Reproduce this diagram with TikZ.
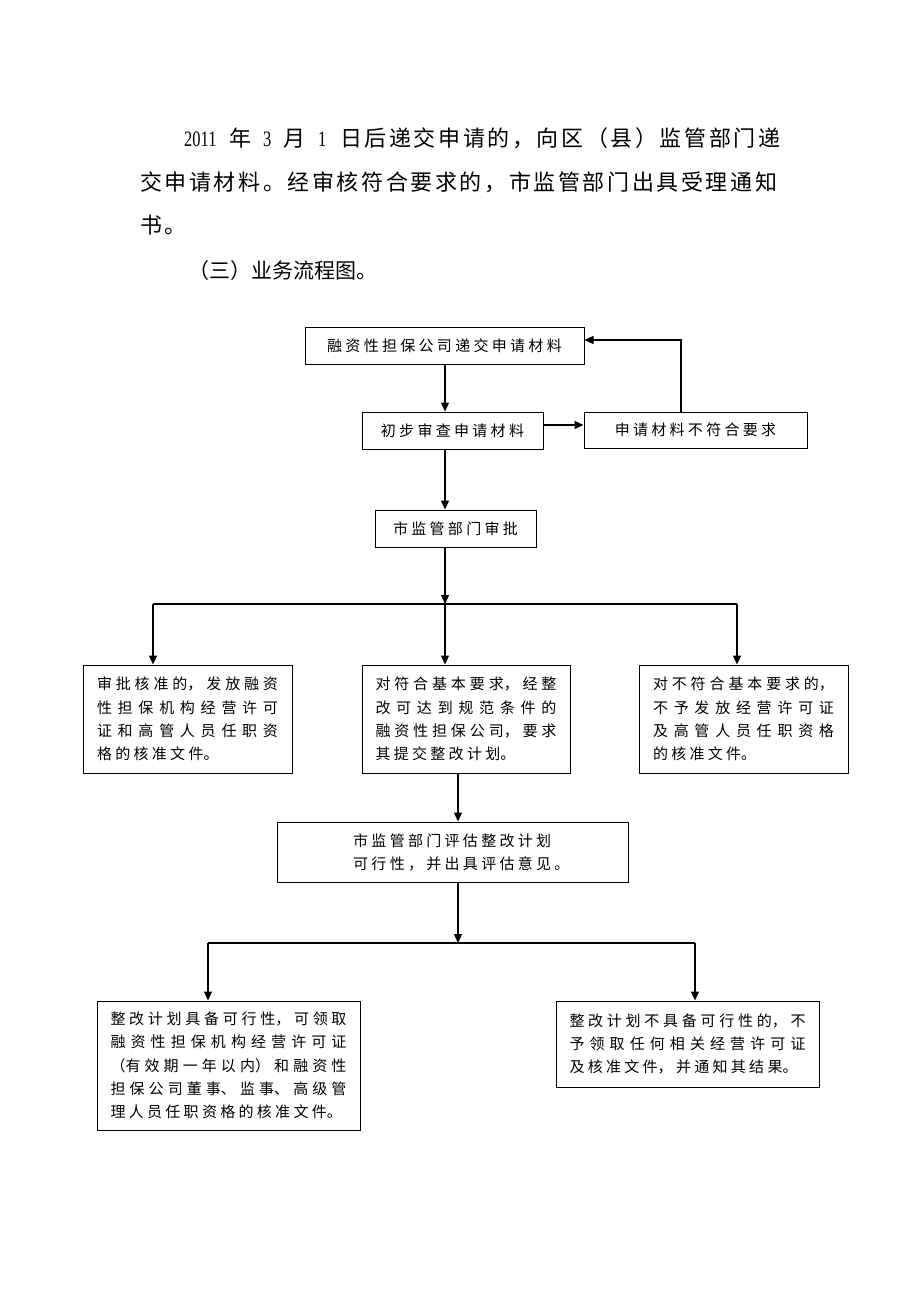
\documentclass[tikz,border=0pt]{standalone}
\usepackage{fontspec}
\usetikzlibrary{arrows.meta,shadows}
\newfontfamily\cjkbody[LetterSpace=11.8]{Noto Sans CJK SC}
\newfontfamily\cjkbox[LetterSpace=22]{Noto Sans CJK SC}
\newfontfamily\cjkplain{Noto Sans CJK SC}
\newfontfamily\cjkhead{Noto Sans CJK SC}
\newfontfamily\digitfont[FakeStretch=0.75]{Liberation Serif}
\XeTeXlinebreaklocale "zh"
\XeTeXlinebreakskip=0pt
\newcommand\myboxglue{\XeTeXlinebreakskip=3.3pt plus 4pt\relax}
\begin{document}
\begin{tikzpicture}[x=1pt,y=-1pt,
  txt/.style={inner sep=0pt, anchor=base west, font=\cjkbody\fontsize{22}{26}\selectfont},
  dig/.style={inner sep=0pt, anchor=base west, font=\digitfont\fontsize{22}{26}\selectfont},
  box/.style={draw, line width=1pt, fill=white, inner sep=0pt,
    font=\cjkbox\fontsize{15}{23.3}\selectfont,
    drop shadow={shadow xshift=1.4pt, shadow yshift=-1.4pt, fill=black!70, opacity=0.6}},
  pbox/.style={box, align=justify, inner ysep=0pt,
    font={\cjkplain\fontsize{15}{23.3}\selectfont\myboxglue}},
  conn/.style={line width=1.1pt},
  arr/.style={conn, -{Triangle[length=9pt,width=8pt]}}
]
\fill[white] (0,0) rectangle (920,1302);
\useasboundingbox (0,0) rectangle (920,1302);

% paragraph text
\node[dig] (p2011) at (184,146.4) {2011};
\node[txt] (pnian) at (229,146.4) {年};
\node[dig] (p3) at (263,146.4) {3};
\node[txt] (pyue) at (283,146.4) {月};
\node[dig] (p1) at (318,146.4) {1};
\node[txt] (pl1) at (340,146.4) {日后递交申请的，向区（县）监管部门递};
\node[txt] (pl2) at (140,190.4) {交申请材料。经审核符合要求的，市监管部门出具受理通知};
\node[txt] (pl3) at (140,233.4) {书。};
\node[inner sep=0pt, anchor=base west, font=\cjkhead\fontsize{21}{25}\selectfont] (head) at (188,278) {（三）业务流程图。};

% boxes
\node[box, minimum width=279pt, minimum height=37pt] (A) at (444.5,345.5) {融资性担保公司递交申请材料};
\node[box, minimum width=181pt, minimum height=37pt] (B) at (452.5,430.5) {初步审查申请材料};
\node[box, minimum width=223pt, minimum height=36pt] (C) at (695.5,430) {申请材料不符合要求};
\node[box, minimum width=161pt, minimum height=37pt] (S) at (455.5,528.5) {市监管部门审批};

\node[pbox, text width=181pt, inner xsep=14pt, minimum height=108pt] (L) at (187.5,719)
  {审批核准的，发放融资\linebreak 性担保机构经营许可\linebreak 证和高管人员任职资\linebreak 格的核准文件。};
\node[pbox, text width=181pt, inner xsep=13.5pt, minimum height=108pt] (M) at (466,719)
  {对符合基本要求，经整\linebreak 改可达到规范条件的\linebreak 融资性担保公司，要求\linebreak 其提交整改计划。};
\node[pbox, text width=181pt, inner xsep=14pt, minimum height=108pt] (R) at (743.5,719)
  {对不符合基本要求的，\linebreak 不予发放经营许可证\linebreak 及高管人员任职资格\linebreak 的核准文件。};

\node[box, minimum width=351pt, minimum height=60pt] (D) at (452.5,852) {};
\node[inner sep=0pt, anchor=west, align=left, font=\cjkbox\fontsize{15}{23}\selectfont] (Dt) at (353,852)
  {市监管部门评估整改计划\\可行性，并出具评估意见。};

\node[pbox, text width=236pt, inner xsep=13.5pt, minimum height=129pt] (BL) at (228.5,1065.5)
  {整改计划具备可行性，可领取\linebreak 融资性担保机构经营许可证\linebreak （有效期一年以内）和融资性\linebreak 担保公司董事、监事、高级管\linebreak 理人员任职资格的核准文件。};
\node[pbox, text width=236pt, inner xsep=13.5pt, minimum height=86pt] (BR) at (687.5,1044)
  {整改计划不具备可行性的，不\linebreak 予领取任何相关经营许可证\linebreak 及核准文件，并通知其结果。};

% connectors
\coordinate (t1) at (445,604);
\coordinate (jl) at (153,604);
\coordinate (jr) at (737,604);
\coordinate (t2) at (458,943);
\coordinate (kl) at (208,943);
\coordinate (kr) at (695,943);

\draw[arr] (A.south -| t1) -- (B.north -| t1);
\draw[arr] ([yshift=5.5pt]B.east) -- ([yshift=5.5pt]B.east -| C.west);
\draw[arr] ([xshift=-14.5pt]C.north) |- ([yshift=5.5pt]A.east);
\draw[arr] (B.south -| t1) -- (S.north -| t1);
\draw[arr] (S.south -| t1) -- (t1);
\draw[conn] (jl) -- (jr);
\draw[arr] (jl) -- (L.north -| jl);
\draw[arr] (t1) -- (M.north -| t1);
\draw[arr] (jr) -- (R.north -| jr);
\draw[arr] (M.south -| t2) -- (D.north -| t2);
\draw[arr] (D.south -| t2) -- (t2);
\draw[conn] (kl) -- (kr);
\draw[arr] (kl) -- (BL.north -| kl);
\draw[arr] (kr) -- (BR.north -| kr);
\end{tikzpicture}
\end{document}
